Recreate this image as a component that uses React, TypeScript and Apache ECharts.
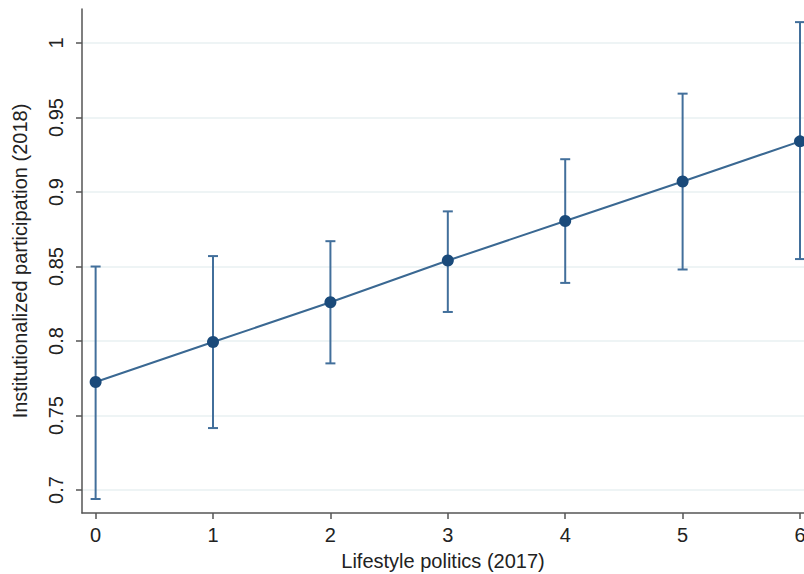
import React, { useEffect, useRef } from "react";
import * as echarts from "echarts";

const categories = [0, 1, 2, 3, 4, 5, 6];
const estimates = [0.7725, 0.7993, 0.826, 0.854, 0.8805, 0.907, 0.934];
const lowerCI = [0.694, 0.7416, 0.785, 0.8195, 0.839, 0.848, 0.855];
const upperCI = [0.85, 0.857, 0.867, 0.887, 0.922, 0.966, 1.014];
const yTicks = [0.7, 0.75, 0.8, 0.85, 0.9, 0.95, 1];

export default function App() {
  const ref = useRef<HTMLDivElement>(null);
  useEffect(() => {
    if (!ref.current) return;
    const chart = echarts.init(ref.current, null, { renderer: "svg" });
    const font = "'Liberation Sans', Arial, Helvetica, sans-serif";
    const errData = categories.map((c, i) => [c, lowerCI[i], upperCI[i]]);
    chart.setOption({
      animation: false,
      backgroundColor: "#ffffff",
      grid: { left: 82, right: 0, top: 9, bottom: 61, containLabel: false, outerBoundsMode: "none" },
      xAxis: {
        type: "value",
        min: -0.116,
        max: 6.034,
        name: "Lifestyle politics (2017)",
        nameLocation: "middle",
        nameGap: 38,
        nameTextStyle: { fontFamily: font, fontSize: 20, color: "#222" },
        axisLine: { onZero: false, lineStyle: { color: "#555", width: 1.5 } },
        axisTick: { show: true, length: 6, lineStyle: { color: "#555", width: 1.5 }, customValues: categories },
        axisLabel: {
          fontFamily: font,
          fontSize: 20,
          color: "#222",
          margin: 12,
          customValues: categories,
          formatter: (v: number) => String(v),
        },
        splitLine: { show: false },
      },
      yAxis: {
        type: "value",
        min: 0.6846,
        max: 1.0228,
        name: "Institutionalized participation (2018)",
        nameLocation: "middle",
        nameGap: 52,
        nameTextStyle: { fontFamily: font, fontSize: 20, color: "#222" },
        axisLine: { show: true, onZero: false, lineStyle: { color: "#555", width: 1.5 } },
        axisTick: {
          show: true,
          length: 6,
          lineStyle: { color: "#555", width: 1.5 },
          customValues: yTicks,
        },
        axisLabel: {
          fontFamily: font,
          fontSize: 20,
          color: "#222",
          rotate: 90,
          margin: 16,
          customValues: yTicks,
          formatter: (v: number) => String(Math.round(v * 100) / 100),
        },
        splitLine: { show: true, lineStyle: { color: "#e8f0f2", width: 1.5 } },
      },
      series: [
        {
          type: "custom",
          data: errData,
          z: 1,
          renderItem: (params: any, api: any) => {
            const x = api.value(0);
            const lo = api.coord([x, api.value(1)]);
            const hi = api.coord([x, api.value(2)]);
            const hw = 5;
            const style = { stroke: "#426f9b", lineWidth: 2 };
            return {
              type: "group",
              children: [
                { type: "line", shape: { x1: lo[0], y1: lo[1], x2: hi[0], y2: hi[1] }, style },
                { type: "line", shape: { x1: lo[0] - hw, y1: lo[1], x2: lo[0] + hw, y2: lo[1] }, style },
                { type: "line", shape: { x1: hi[0] - hw, y1: hi[1], x2: hi[0] + hw, y2: hi[1] }, style },
              ],
            };
          },
        },
        {
          type: "line",
          z: 2,
          data: categories.map((c, i) => [c, estimates[i]]),
          symbol: "circle",
          symbolSize: 12,
          lineStyle: { color: "#3a6892", width: 2 },
          itemStyle: { color: "#1a4a7a" },
        },
      ],
    });
    return () => chart.dispose();
  }, []);
  return (
    <div
      ref={ref}
      style={{ position: "fixed", left: 0, top: 0, width: 804, height: 574 }}
    />
  );
}
